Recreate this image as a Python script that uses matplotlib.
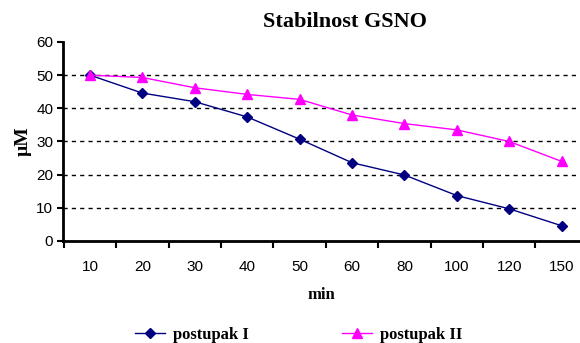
import numpy as np
import matplotlib
matplotlib.use('Agg')
from matplotlib import pyplot as plt

# data
minutes = ['10', '20', '30', '40', '50', '60', '80', '100', '120', '150']
postupak_1 = [50, 44.6, 42, 37.4, 30.7, 23.6, 19.9, 13.7, 9.7, 4.6]
postupak_2 = [50, 49.3, 46.2, 44.2, 42.7, 38, 35.4, 33.5, 30, 24]
y_ticks = [0, 10, 20, 30, 40, 50, 60]

serif = 'Liberation Serif'
sans = 'Liberation Sans'

fig = plt.figure(figsize=(5.8, 3.43), dpi=100)
ax = fig.add_axes([63/580, 102/343, 517/580, 199/343])

x = np.arange(len(minutes))
ax.plot(x, postupak_1, color='#000080', marker='D', markersize=5, lw=1, label='postupak I')
ax.plot(x, postupak_2, color='#FF00FF', marker='^', markersize=7, lw=1, label='postupak II')

ax.set_xlim(-0.515, 9.35)
ax.set_ylim(0, 60)
ax.set_yticks(y_ticks)
ax.set_yticklabels([str(v) for v in y_ticks], fontfamily=sans, fontsize=11)

# category labels in the middle, tick marks between categories
ax.set_xticks(x)
ax.set_xticklabels(minutes, fontfamily=sans, fontsize=11)
ax.tick_params(axis='x', which='major', length=0, pad=14)
ax.set_xticks(np.arange(len(minutes)) - 0.5, minor=True)
ax.tick_params(axis='x', which='minor', length=5, width=1.5, direction='out')
ax.tick_params(axis='y', length=4, width=1.5, direction='out', pad=3)

ax.yaxis.grid(True, color='black', linestyle=(0, (3, 3)), lw=1)
ax.get_ygridlines()[-1].set_visible(False)
ax.set_axisbelow(True)

for s in ['top', 'right']:
    ax.spines[s].set_visible(False)
for s in ['left', 'bottom']:
    ax.spines[s].set_linewidth(2)

ax.set_ylabel('µM', fontfamily=serif, fontweight='bold', fontsize=14, labelpad=3)
ax.set_xlabel('min', fontfamily=serif, fontweight='bold', fontsize=12, labelpad=9)
fig.text(345/580, 1 - 22/343, 'Stabilnost GSNO', fontfamily=serif, fontweight='bold',
         fontsize=16, ha='center', va='center')

fig.legend(loc='center', bbox_to_anchor=(0.515, 1 - 335/343), ncol=2, frameon=False,
           prop={'family': serif, 'weight': 'bold', 'size': 12}, handlelength=1.8,
           columnspacing=5.6, handletextpad=0.5)

fig.savefig('out.png', dpi=100)
